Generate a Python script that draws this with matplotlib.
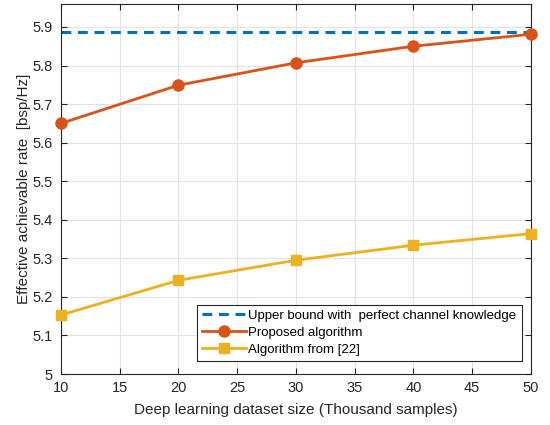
from matplotlib import pyplot as plt
import numpy as np

plt.rcParams['font.family'] = ['Liberation Sans', 'DejaVu Sans']

samples = [10, 20, 30, 40, 50]
upperBound = [5.887, 5.887, 5.887, 5.887, 5.887]
proposed = [5.650, 5.749, 5.807, 5.850, 5.881]
algo22 = [5.153, 5.243, 5.295, 5.334, 5.364]

fig = plt.figure(figsize=(5.5, 4.25), dpi=100)
ax = fig.add_axes([0.111, 0.12, 0.854, 0.871])

ax.plot(samples, upperBound, '--', color='#0072BD', linewidth=2.2, dashes=(3.2, 2.2),
        label="Upper bound with  perfect channel knowledge")
ax.plot(samples, proposed, '-o', color='#D95319', linewidth=2, markersize=8,
        label="Proposed algorithm", clip_on=False, zorder=3)
ax.plot(samples, algo22, '-s', color='#EDB120', linewidth=2, markersize=7,
        label="Algorithm from [22]", clip_on=False, zorder=3)

ax.set_xlim(10, 50)
ax.set_ylim(5, 5.96)
ax.set_xticks(np.arange(10, 51, 5))
ax.set_yticks([5, 5.1, 5.2, 5.3, 5.4, 5.5, 5.6, 5.7, 5.8, 5.9])
ax.set_yticklabels(["5", "5.1", "5.2", "5.3", "5.4", "5.5", "5.6", "5.7", "5.8", "5.9"])
ax.grid(True, color='#e3e3e3', linewidth=0.8)
ax.set_axisbelow(True)
ax.tick_params(direction='in', top=True, right=True, labelsize=10.5, colors='#262626', length=4)
ax.tick_params(axis='y', pad=6)
ax.tick_params(axis='x', pad=5)
for s in ax.spines.values():
    s.set_color('#262626')
    s.set_linewidth(0.8)

ax.set_xlabel("Deep learning dataset size (Thousand samples)", fontsize=11, color='#262626', labelpad=6)
ax.set_ylabel("Effective achievable rate  [bsp/Hz]", fontsize=11, color='#262626', labelpad=1)

leg = ax.legend(loc='lower right', bbox_to_anchor=(0.981, 0.035), borderaxespad=0,
                fontsize=9.5, handlelength=3.3, handletextpad=0.2, borderpad=0.4,
                labelspacing=0.35, fancybox=False, edgecolor='#262626', framealpha=1)
leg.get_frame().set_linewidth(0.8)

fig.savefig("out.png")
